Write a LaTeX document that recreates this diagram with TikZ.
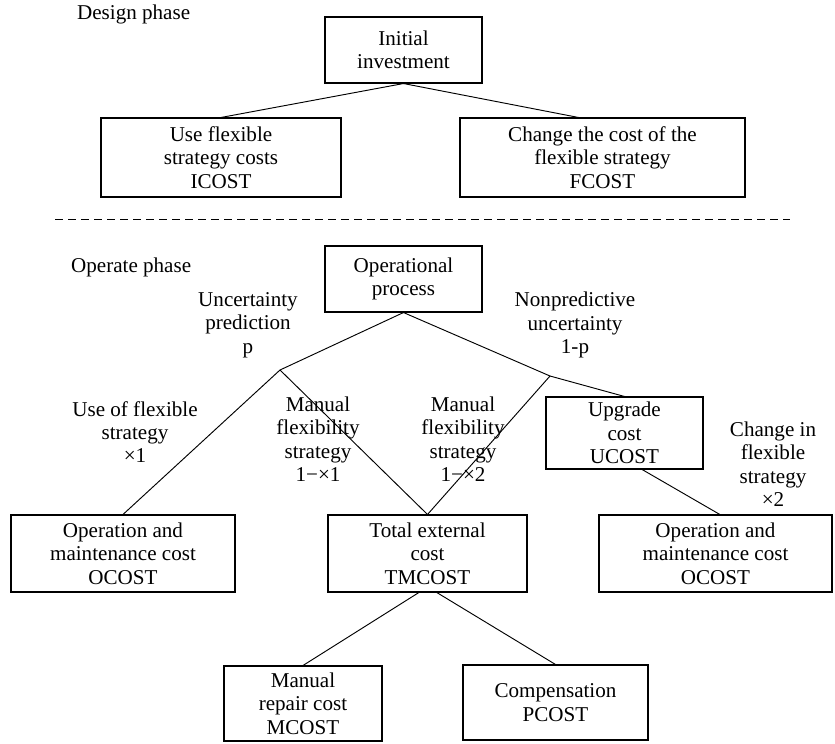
\documentclass[tikz,border=0pt]{standalone}
\usepackage{fontspec}
\setmainfont{Liberation Serif}
\usepackage{tikz}
\usetikzlibrary{positioning}

\begin{document}
\begin{tikzpicture}[x=0.03cm, y=-0.03cm,
  every node/.style={font=\fontsize{18}{20}\selectfont, align=center},
  costbox/.style={draw, line width=0.9pt, inner sep=2pt},
  branch/.style={line width=0.8pt}]
\useasboundingbox (0,0) rectangle (835,743);
% design phase
\node[anchor=west] (design) at (73,14) {Design phase};
\node[costbox, minimum width=4.71cm, minimum height=1.98cm] (init) at (403.5,50) {Initial\\investment};
\node[costbox, minimum width=7.2cm, minimum height=2.37cm] (icost) at (221,157.5) {Use flexible\\strategy costs\\ICOST};
\node[costbox, minimum width=8.55cm, minimum height=2.37cm] (fcost) at (602.5,157.5) {Change the cost of the\\flexible strategy\\FCOST};
\draw[branch] (init.south) -- (icost.north);
\draw[branch] (init.south) -- ([xshift=-0.72cm]fcost.north);
% phase separator
\coordinate (sepL) at (55,219);
\coordinate (sepR) at (790,219);
\draw[line width=0.8pt, dash pattern=on 0.24cm off 0.15cm] (sepL) -- (sepR);
% operate phase
\node[anchor=west] (operate) at (67,267) {Operate phase};
\node[costbox, minimum width=4.71cm, minimum height=1.98cm] (ops) at (403.5,279) {Operational\\process};
\coordinate (pL) at (280,370);
\coordinate (pR) at (550,376);
\node (unc) at (248,325) {Uncertainty\\prediction\\p};
\node (nonpred) at (575,325) {Nonpredictive\\uncertainty\\1-p};
\node[costbox, minimum width=4.71cm, minimum height=2.16cm] (ucost) at (624.5,433) {Upgrade\\cost\\UCOST};
\node (useflex) at (135,432) {Use of flexible\\strategy\\×1};
\node (manA) at (318,439) {Manual\\flexibility\\strategy\\1−×1};
\node (manB) at (463,439) {Manual\\flexibility\\strategy\\1−×2};
\node (chg) at (773,464) {Change in\\flexible\\strategy\\×2};
\node[costbox, minimum width=6.72cm, minimum height=2.31cm] (ocostL) at (123,553.5) {Operation and\\maintenance cost\\OCOST};
\node[costbox, minimum width=5.97cm, minimum height=2.31cm] (tmcost) at (427.5,553.5) {Total external\\cost\\TMCOST};
\node[costbox, minimum width=6.99cm, minimum height=2.31cm] (ocostR) at (715.5,553.5) {Operation and\\maintenance cost\\OCOST};
\node[costbox, minimum width=4.74cm, minimum height=2.25cm] (mcost) at (303,703.5) {Manual\\repair cost\\MCOST};
\node[costbox, minimum width=5.55cm, minimum height=2.25cm] (pcost) at (555.5,702.5) {Compensation\\PCOST};
\draw[branch] (ops.south) -- (pL);
\draw[branch] (ops.south) -- (pR) -- (ucost.north);
\draw[branch] (pL) -- (ocostL.north);
\draw[branch] (pL) -- (tmcost.north);
\draw[branch] (pR) -- (tmcost.north);
\draw[branch] ([xshift=0.53cm]ucost.south) -- ([xshift=0.13cm]ocostR.north);
\draw[branch] ([xshift=-0.26cm]tmcost.south) -- (mcost.north);
\draw[branch] ([xshift=0.28cm]tmcost.south) -- (pcost.north);
\end{tikzpicture}
\end{document}
